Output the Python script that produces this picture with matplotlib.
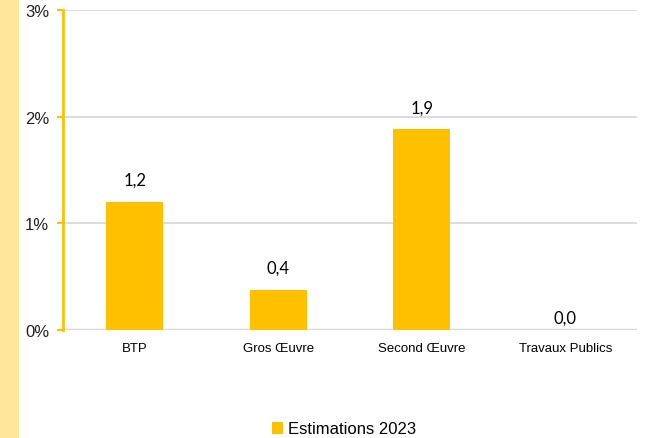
import matplotlib.pyplot as plt
from matplotlib.patches import Rectangle

categories = ["BTP", "Gros Œuvre", "Second Œuvre", "Travaux Publics"]
values = [1.2, 0.375, 1.88, 0.004]
labels = ["1,2", "0,4", "1,9", "0,0"]
yticks = [0, 1, 2, 3]
ytick_labels = ["0%", "1%", "2%", "3%"]
legend_label = "Estimations 2023"

gold = "#FFC000"
grid = "#D9D9D9"

fig = plt.figure(figsize=(6.49, 4.39), dpi=100)

# light yellow strip on the left edge
fig.patches.append(Rectangle((0, 0), 19 / 649, 1, transform=fig.transFigure,
                             facecolor="#FFE699", edgecolor="none", zorder=0))

ax = fig.add_axes([63 / 649, 108 / 439, 574 / 649, 320 / 439])
x = list(range(len(categories)))
ax.bar(x, values, width=0.4, color=gold, zorder=3, label=legend_label)

for xi, v, lab in zip(x, values, labels):
    off = 14 if v > 0.05 else 4
    ax.annotate(lab, (xi, v), xytext=(0, off), textcoords="offset pixels",
                ha="center", va="bottom", fontsize=12, family="Lato", color="#000000")

ax.set_xlim(-0.5, len(categories) - 0.5)
ax.set_ylim(0, 3)
ax.set_yticks(yticks)
ax.set_yticklabels(ytick_labels, fontsize=12, family="Liberation Sans", color="#222222")
ax.set_xticks(x)
ax.set_xticklabels(categories, fontsize=9.5, family="Liberation Sans")
ax.tick_params(axis="x", length=0, pad=9)
ax.tick_params(axis="y", length=4, width=1.5, color=gold, pad=6)

for y in yticks[1:]:
    ax.axhline(y, color=grid, lw=1.3, zorder=1)
ax.axhline(0, color=grid, lw=2.5, zorder=2)

for s in ["top", "right", "bottom"]:
    ax.spines[s].set_visible(False)
ax.spines["left"].set_color(gold)
ax.spines["left"].set_linewidth(2)

fig.legend(loc="center", bbox_to_anchor=(344 / 649, 9 / 439), frameon=False,
           prop={"family": "Liberation Sans", "size": 12}, handlelength=0.7,
           handleheight=0.7, handletextpad=0.3)

plt.savefig("out.png", dpi=100)
